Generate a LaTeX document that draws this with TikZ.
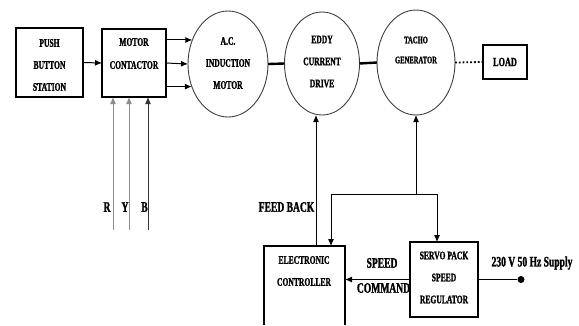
\documentclass[tikz,border=0pt]{standalone}
\usepackage{fontspec}
\newfontfamily\cond[FakeStretch=0.66,BoldFeatures={FakeBold=1.3}]{Liberation Serif}
\usetikzlibrary{shapes.geometric,arrows.meta,calc}
\begin{document}
\begin{tikzpicture}[x=1pt,y=-1pt,
  box/.style={draw,line width=1.2pt,inner sep=0,outer sep=0},
  circ/.style={draw=black!75,ellipse,line width=0.9pt,inner sep=0,outer sep=0},
  txt/.style={font=\cond\bfseries\fontsize{11.5}{22}\selectfont,align=center,inner sep=0},
  small/.style={font=\cond\bfseries\fontsize{10}{20}\selectfont,align=center,inner sep=0},
  big/.style={font=\cond\bfseries\fontsize{14.5}{17}\selectfont,inner sep=0},
  arr/.style={line width=1pt,-{Latex[length=7pt,width=6pt]}},
  ln/.style={line width=1pt}]
\useasboundingbox[fill=white] (0,0) rectangle (579,325);

% boxes
\node[box,minimum width=67pt,minimum height=69pt] (push) at (49.5,62.5) {};
\node[txt] (pusht) at (49.5,65) {PUSH\\BUTTON\\STATION};
\node[box,minimum width=64pt,minimum height=68pt] (cont) at (134,63) {};
\node[txt] (contt) at (134,53.5) {MOTOR\\[1pt]CONTACTOR};
\node[circ,minimum width=80pt,minimum height=106pt] (motor) at (228,64) {};
\node[txt] (motort) at (228,63) {A.C.\\INDUCTION\\MOTOR};
\node[circ,minimum width=75pt,minimum height=103pt] (eddy) at (322,63.5) {};
\node[txt] (eddyt) at (322,61.5) {EDDY\\CURRENT\\DRIVE};
\node[circ,minimum width=78pt,minimum height=105pt] (tacho) at (416,62.5) {};
\node[small] (tachot) at (416,50) {TACHO\\GENERATOR};
\node[box,minimum width=44pt,minimum height=34pt,font=\cond\bfseries\fontsize{12.5}{15}\selectfont] (load) at (505,62) {LOAD};

% electronic controller (open at bottom)
\node[minimum width=81pt,minimum height=79pt,inner sep=0,outer sep=0] (ec) at (304.5,285.5) {};
\draw[line width=1.2pt] (ec.south west) -- (ec.north west) -- (ec.north east) -- (ec.south east);
\node[txt] (ect) at (304,271) {ELECTRONIC\\CONTROLLER};
\node[box,minimum width=68pt,minimum height=75pt] (servo) at (444,279.5) {};
\node[txt] (servot) at (444,277.5) {SERVO PACK\\SPEED\\REGULATOR};

% connectors top row
\draw[arr] (push.east) -- (cont.west);
\draw[arr] (cont.east |- motor.146) -- (motor.146);
\draw[arr] (cont.east) -- (motor.west);
\draw[arr] (cont.east |- motor.212) -- (motor.212);
\draw[line width=2.4pt] (motor.east) -- (eddy.west);
\draw[line width=2.4pt] (eddy.east) -- (tacho.west);
\draw[line width=1.8pt,dotted] (tacho.east) -- (load.west);

% R Y B
\coordinate (r) at (113,230);
\coordinate (y) at (129,230);
\coordinate (b) at (148,230);
\draw[arr,draw=black!45,fill=black!45] (r) -- (r |- cont.south);
\draw[arr,draw=black!45,fill=black!45] (y) -- (y |- cont.south);
\draw[arr,draw=black!80] (b) -- (b |- cont.south);
\node[big] (rl) at (107,207) {R};
\node[big] (yl) at (125,207) {Y};
\node[big] (bl) at (144.5,207) {B};

% feedback
\coordinate (fb) at (316,115);
\draw[arr] (fb |- ec.north) -- (fb |- eddy.south);
\node[big,anchor=east] (fbl) at (314.5,207) {FEED BACK};
\coordinate (j) at (416,194);
\coordinate (jl) at (331,194);
\coordinate (jr) at (437,194);
\draw[arr] (j) -- (tacho.south);
\draw[arr] (j) -- (jl) -- (jl |- ec.north);
\draw[arr] (j) -- (jr) -- (jr |- servo.north);

% speed command
\draw[arr] (servo.west) -- (servo.west -| ec.east);
\node[big] (sp) at (382,263) {SPEED};
\node[big] (cm) at (383.5,288) {COMMAND};

% supply
\node[circle,fill,inner sep=0,minimum size=7pt] (dot) at (521,279.5) {};
\draw[ln] (servo.east) -- (dot);
\node[big] (sup) at (532,263) {230 V 50 Hz Supply};
\end{tikzpicture}
\end{document}
